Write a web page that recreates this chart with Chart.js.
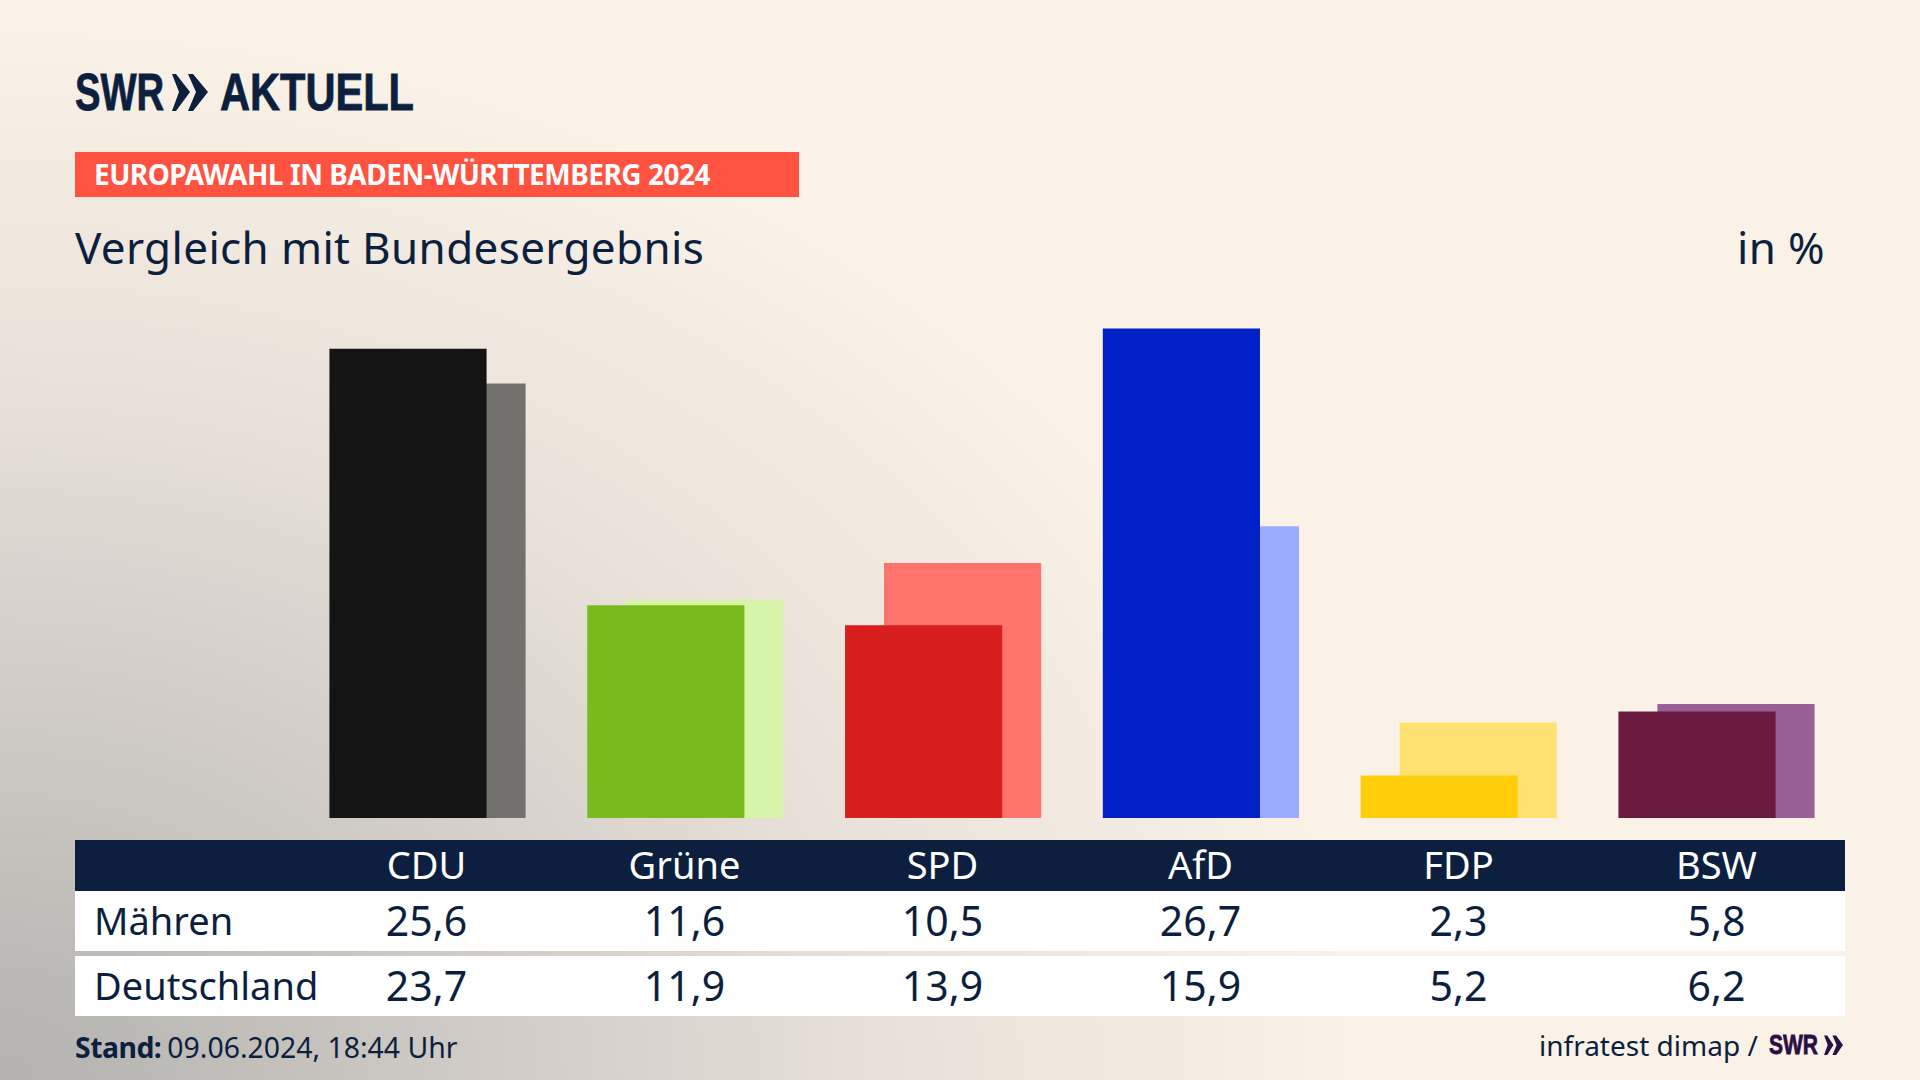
<!DOCTYPE html>
<html lang="de">
<head>
<meta charset="utf-8">
<title>Europawahl in Baden-Württemberg 2024</title>
<script src="https://cdn.jsdelivr.net/npm/chart.js"></script>
<style>
  html, body { margin: 0; padding: 0; }
  body {
    width: 1920px; height: 1080px; overflow: hidden; position: relative;
    font-family: "Noto Sans", sans-serif; color: #0c1f3f;
    background: radial-gradient(ellipse 1350px 1050px at 0 100%, #b3b2af 0%, #d3cec9 40%, #e9e1d9 66%, #faf2e7 100%);
  }
  .abs { position: absolute; white-space: nowrap; }
  .logo { font-family: "Liberation Sans", sans-serif; font-weight: 700; font-size: 51px; line-height: 51px; transform-origin: left center; -webkit-text-stroke: 0.8px currentColor; }
  .band { background: #ff5240; left: 75px; top: 152px; width: 724px; height: 45px; }
  .kicker { left: 94px; top: 152px; line-height: 45px; color: #fff; font-weight: 700; font-size: 28px; letter-spacing: -0.5px; }
  .headline { font-size: 44px; line-height: 58px; top: 218px; letter-spacing: 0.35px; }
  #chartBox { position: absolute; left: 278px; top: 305px; width: 1549px; height: 513px; }
  .row { position: absolute; left: 75px; width: 1770px; }
  .head { top: 840px; height: 51px; background: #0c1f3f; color: #fff; }
  .r1 { top: 891px; height: 60px; background: #fff; }
  .r2 { top: 956px; height: 60px; background: #fff; }
  .cell { position: absolute; top: 0; transform: translateX(-50%); white-space: nowrap; }
  .head .cell { font-size: 38px; line-height: 49px; }
  .r1 .cell, .r2 .cell { font-size: 41px; line-height: 58px; }
  .name { position: absolute; left: 19px; top: 0; font-size: 38px; line-height: 58px; white-space: nowrap; }
  .foot { font-size: 28.4px; line-height: 40px; top: 1027px; }
</style>
</head>
<body>
<div class="abs logo" style="left:75px;top:67px;transform:scaleX(.75)">SWR</div>
<svg class="abs" style="left:170px;top:73px" width="40" height="40" viewBox="0 0 40 40">
  <polygon fill="#0c1f3f" points="2,1 6,1 20,19 6,38 2,38 9,19" />
  <polygon fill="#0c1f3f" points="18,1 23,1 38,19 23,38 18,38 26,19" />
</svg>
<div class="abs logo" style="left:220px;top:67px;transform:scaleX(.815)">AKTUELL</div>

<div class="abs band"></div>
<div class="abs kicker">EUROPAWAHL IN BADEN-WÜRTTEMBERG 2024</div>
<div class="abs headline" style="left:75px">Vergleich mit Bundesergebnis</div>
<div class="abs headline" style="right:95px">in %</div>

<div id="chartBox"><canvas id="grafico"></canvas></div>

<div class="row head" id="rowHead"></div>
<div class="row r1" id="rowA"></div>
<div class="row r2" id="rowB"></div>

<div class="abs foot" style="left:75px"><b style="letter-spacing:-0.5px">Stand:</b><span style="margin-left:6px">09.06.2024, 18:44 Uhr</span></div>
<div class="abs foot" style="left:1539px;top:1025px;font-size:28px">infratest dimap /</div>
<div class="abs logo" style="left:1769px;top:1031px;font-size:28px;line-height:28px;color:#2a0f45;transform:scaleX(.75)">SWR</div>
<svg class="abs" style="left:1822px;top:1035px" width="23" height="21" viewBox="0 0 40 40">
  <polygon fill="#2a0f45" points="2,1 8,1 20,19 8,38 2,38 9,19" />
  <polygon fill="#2a0f45" points="18,1 25,1 38,19 25,38 18,38 26,19" />
</svg>

<script>
const parteien = ['CDU', 'Grüne', 'SPD', 'AfD', 'FDP', 'BSW'];
const maehren = [25.6, 11.6, 10.5, 26.7, 2.3, 5.8];
const deutschland = [23.7, 11.9, 13.9, 15.9, 5.2, 6.2];
const filas = ['Mähren', 'Deutschland'];
const coloresFuertes = ['#141414', '#7abb1b', '#d81f1d', '#0020c8', '#ffcd0a', '#6a1a3f'];
const coloresClaros = ['#72716e', '#d6f5aa', '#fe736c', '#9dabfe', '#fee171', '#9a5f96'];

// columnas de la tabla, relativas a la fila
const colX = i => 351.5 + i * 258;

function llenarFila(id, nombre, textos) {
  const el = document.getElementById(id);
  let html = nombre ? `<div class="name">${nombre}</div>` : '';
  textos.forEach((t, i) => { html += `<div class="cell" style="left:${colX(i)}px">${t}</div>`; });
  el.innerHTML = html;
}
const coma = v => v.toFixed(1).replace('.', ',');
llenarFila('rowHead', '', parteien);
llenarFila('rowA', filas[0], maehren.map(coma));
llenarFila('rowB', filas[1], deutschland.map(coma));

// la serie de Deutschland va detras y desplazada a la derecha
const desplazar = {
  id: 'desplazar',
  afterDatasetsUpdate(chart) {
    chart.getDatasetMeta(1).data.forEach(bar => { bar.x += 39; });
  }
};

new Chart(document.getElementById('grafico'), {
  type: 'bar',
  data: {
    labels: parteien,
    datasets: [
      { label: filas[0], data: maehren, backgroundColor: coloresFuertes, grouped: false, barThickness: 156.5 },
      { label: filas[1], data: deutschland, backgroundColor: coloresClaros, grouped: false, barThickness: 156.5 }
    ]
  },
  options: {
    responsive: true,
    maintainAspectRatio: false,
    animation: false,
    layout: { padding: { left: 1.1, right: 1.1 } },
    plugins: { legend: { display: false }, tooltip: { enabled: false } },
    scales: {
      x: { display: false },
      y: { display: false, min: 0, max: 28 }
    }
  },
  plugins: [desplazar]
});
</script>
</body>
</html>
